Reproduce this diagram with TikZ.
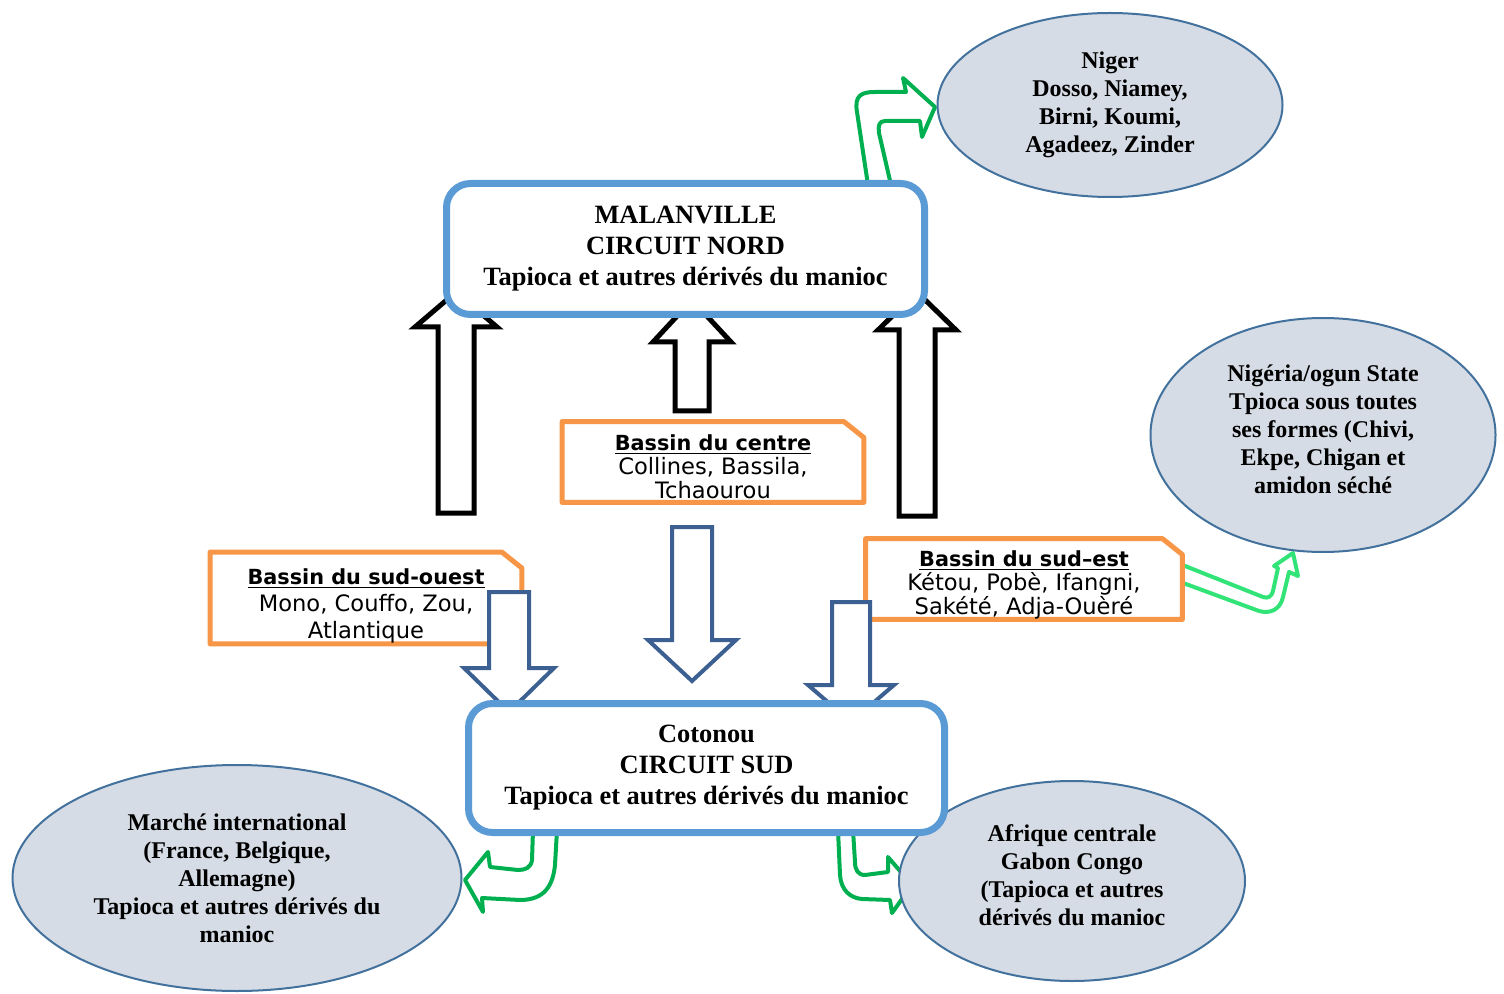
\documentclass[tikz,border=0pt]{standalone}
\usepackage{fontspec}
\setmainfont{Liberation Serif}
\newfontfamily\bassinfont{DejaVu Sans}
\usetikzlibrary{shapes.geometric}
\definecolor{bleucadre}{RGB}{91,155,213}
\definecolor{bleufleche}{RGB}{60,96,145}
\definecolor{bordellipse}{RGB}{65,113,156}
\definecolor{fondellipse}{RGB}{214,220,229}
\definecolor{orangebassin}{RGB}{247,150,70}
\definecolor{vertfonce}{RGB}{0,176,80}
\definecolor{vertclair}{RGB}{50,228,120}
\tikzstyle{circuit} = [rectangle, rounded corners=12pt, draw=bleucadre, line width=3.5pt, fill=white, align=center, font=\bfseries\fontsize{13.2}{15.5}\selectfont]
\tikzstyle{destination} = [ellipse, draw=bordellipse, line width=1pt, fill=fondellipse, align=center, inner sep=0pt, font=\bfseries\fontsize{12}{14}\selectfont]
\tikzstyle{bassin} = [rectangle, align=center, inner sep=1pt, font=\bassinfont\fontsize{11.3}{12}\selectfont]
\tikzstyle{cadreorange} = [draw=orangebassin, line width=2.5pt, line join=round, fill=white]
\tikzstyle{flechenoire} = [draw=black, line width=2.5pt, fill=white, line join=miter]
\tikzstyle{flechebleue} = [draw=bleufleche, line width=2pt, fill=white, line join=miter]
\tikzstyle{flecheverte} = [draw=vertfonce, line width=2pt, fill=white, line join=round]
\newcommand{\titrebassin}[1]{{\fontsize{10.4}{12}\selectfont\textbf{\underline{#1}}}}
% style, x, y queue, y base, y pointe, demi-corps, demi-tete
\newcommand{\flechebloc}[7]{\draw[#1] (#2-#6,#3) -- (#2-#6,#4) -- (#2-#7,#4) -- (#2,#5) -- (#2+#7,#4) -- (#2+#6,#4) -- (#2+#6,#3) -- cycle;}
% cadre a coin coupe autour d'un bassin
\newcommand{\cadrebassin}[1]{\draw[cadreorange] (#1.south west) -- (#1.north west) -- ([xshift=-10pt]#1.north east) -- ([yshift=-8pt]#1.north east) -- (#1.south east) -- cycle;}

\begin{document}
\begin{tikzpicture}[x=0.5pt, y=-0.5pt]
\useasboundingbox (0,0) rectangle (1504,994);

        % fleches vertes vers les marches
        \draw[flecheverte] (868,185) -- (857,112) .. controls (854,95) and (862,92) .. (875,92) -- (906,92) -- (903,78) -- (935,107) -- (922,137) -- (920,121) -- (885,121) .. controls (879,121) and (878,126) .. (879,133) -- (891,185) -- cycle;
        \draw[flecheverte, draw=vertclair] (1175,562) -- (1263,597) .. controls (1268,599) and (1272,596) .. (1273,591) -- (1278,568) -- (1274,566) -- (1293,553) -- (1298,576) -- (1289,572) -- (1283,597) .. controls (1280,610) and (1270,614) .. (1259,611) -- (1175,580) -- cycle;
        \draw[flecheverte] (533,830) -- (532,860) .. controls (531,868) and (525,870) .. (518,870) -- (490,867) -- (488,852) -- (465,880) -- (483,912) -- (482,898) -- (520,900) .. controls (545,900) and (553,885) .. (555,865) -- (557,830) -- cycle;
        \draw[flecheverte] (838,830) -- (840,875) .. controls (841,890) and (850,898) .. (862,899) -- (890,900) -- (892,913) -- (912,885) -- (888,857) -- (888,872) -- (865,875) .. controls (858,875) and (855,870) .. (855,862) -- (853,830) -- cycle;

        \node (niger) [destination, minimum width=172.5pt, minimum height=92pt] at (1110,105) {Niger\\Dosso, Niamey,\\Birni, Koumi,\\Agadeez, Zinder};
        \node (nigeria) [destination, minimum width=172.5pt, minimum height=117pt, text depth=6pt] at (1323,435) {Nigéria/ogun State\\Tpioca sous toutes\\ses formes (Chivi,\\Ekpe, Chigan et\\amidon séché};
        \node (international) [destination, minimum width=224.5pt, minimum height=113pt] at (237,878) {Marché international\\(France, Belgique,\\Allemagne)\\Tapioca et autres dérivés du\\manioc};
        \node (afrique) [destination, minimum width=173pt, minimum height=100pt, text depth=6pt] at (1072,881) {Afrique centrale\\Gabon Congo\\(Tapioca et autres\\dérivés du manioc};

        % bassins de production
        \node (centre) [bassin, minimum width=150.5pt, minimum height=40pt] at (713,462) {};
        \cadrebassin{centre}
        \node [bassin, yshift=-2.5pt] at (centre) {\titrebassin{Bassin du centre}\\Collines, Bassila,\\Tchaourou};
        \node (sudouest) [bassin, minimum width=155.5pt, minimum height=45.5pt] at (366,598) {};
        \cadrebassin{sudouest}
        \node [bassin, yshift=-4pt, font=\bassinfont\fontsize{11.3}{13.5}\selectfont] at (sudouest) {\titrebassin{Bassin du sud-ouest}\\Mono, Couffo, Zou,\\Atlantique};
        \node (sudest) [bassin, minimum width=158pt, minimum height=40pt] at (1024,579) {};
        \cadrebassin{sudest}
        \node [bassin, yshift=-3pt] at (sudest) {\titrebassin{Bassin du sud–est}\\Kétou, Pobè, Ifangni,\\Sakété, Adja-Ouèré};

        % fleches vers le nord
        \flechebloc{flechenoire}{456}{513}{327}{292}{18}{41}
        \flechebloc{flechenoire}{692}{411}{342}{300}{17}{39}
        \flechebloc{flechenoire}{917}{516}{330}{292}{18}{39}
        % fleches vers le sud
        \flechebloc{flechebleue}{509}{592}{668}{712}{20}{45}
        \flechebloc{flechebleue}{692}{527}{640}{681}{20}{44}
        \flechebloc{flechebleue}{851}{602}{685}{722}{19}{43}

        \node (nord) [circuit, minimum width=239pt, minimum height=65.5pt] at (685.5,249) {MALANVILLE\\CIRCUIT NORD\\Tapioca et autres dérivés du manioc};
        \node (sud) [circuit, minimum width=238pt, minimum height=64.5pt] at (706.5,768) {Cotonou\\CIRCUIT SUD\\Tapioca et autres dérivés du manioc};

\end{tikzpicture}
\end{document}
